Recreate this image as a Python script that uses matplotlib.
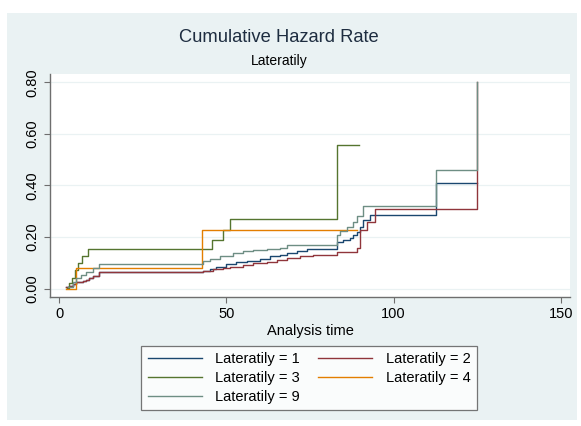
import matplotlib
matplotlib.use("Agg")
import matplotlib.pyplot as plt
from matplotlib.patches import Rectangle

plt.rcParams['font.family'] = ['Liberation Sans', 'DejaVu Sans']

# ---- data ----
t1 = [2, 3, 4, 5, 7, 8, 9, 10, 12, 43, 45, 47, 50, 53, 56, 60, 63, 66, 68, 71, 74,
      83, 85, 87, 88, 89, 90, 91, 93, 112.7, 125]
v1 = [0.005, 0.012, 0.02, 0.026, 0.03, 0.035, 0.042, 0.05, 0.065, 0.07, 0.078, 0.085,
      0.095, 0.102, 0.108, 0.115, 0.125, 0.13, 0.14, 0.148, 0.155,
      0.18, 0.19, 0.195, 0.21, 0.22, 0.24, 0.265, 0.286, 0.41, 0.41]

t2 = [2, 3, 4, 5, 7, 8, 9, 10, 12, 43, 46, 49, 51, 55, 58, 62, 65, 68, 72, 76,
      83, 89, 90, 92, 94.5, 125]
v2 = [0.005, 0.012, 0.02, 0.026, 0.03, 0.035, 0.042, 0.05, 0.065, 0.07, 0.075, 0.08,
      0.086, 0.093, 0.1, 0.105, 0.112, 0.119, 0.125, 0.132,
      0.144, 0.157, 0.228, 0.26, 0.308, 0.80]

t3 = [2.2, 2.9, 3.9, 4.6, 5.6, 6.9, 8.6, 45.8, 48.9, 51, 83, 89.8]
v3 = [0.003, 0.022, 0.041, 0.073, 0.099, 0.128, 0.154, 0.19, 0.228, 0.27, 0.557, 0.557]

t4 = [2, 5, 42.8, 89]
v4 = [0.0, 0.082, 0.226, 0.226]

t9 = [2.5, 4, 5, 6.5, 8, 10, 12, 43, 45, 48, 52, 55, 58, 62, 66, 68,
      83, 84, 86, 88, 89, 91, 112.7, 125]
v9 = [0.005, 0.025, 0.04, 0.055, 0.065, 0.08, 0.095, 0.106, 0.115, 0.128, 0.14,
      0.147, 0.151, 0.155, 0.158, 0.17,
      0.209, 0.225, 0.24, 0.26, 0.28, 0.321, 0.46, 0.80]

labels = ["Lateratily = 1", "Lateratily = 2", "Lateratily = 3",
          "Lateratily = 4", "Lateratily = 9"]
xticks = [0, 50, 100, 150]
yticks = [0.0, 0.2, 0.4, 0.6, 0.8]

colors = ["#1a476f", "#90353b", "#55752f", "#e37e00", "#6e8e84"]
series = [(t1, v1), (t2, v2), (t3, v3), (t4, v4), (t9, v9)]

W, H = 581, 426
fig = plt.figure(figsize=(W / 100, H / 100), dpi=100, facecolor="white")
bg = "#eaf2f3"
fig.patches.append(Rectangle((7 / W, 1 - 420 / H), (577 - 7) / W, (420 - 13) / H,
                             transform=fig.transFigure, facecolor=bg,
                             edgecolor="none", zorder=-10))

ax = fig.add_axes([50 / W, 1 - 297 / H, (570 - 50) / W, (297 - 74) / H])
ax.set_facecolor("white")

handles = []
for (t, v), c, lab in zip(series, colors, labels):
    h, = ax.step(t, v, where="post", color=c, lw=1.0, label=lab)
    handles.append(h)

ax.set_xlim(-2.8, 152.8)
ax.set_ylim(-0.032, 0.832)
ax.set_xticks(xticks)
ax.set_xticklabels([str(x) for x in xticks])
ax.set_yticks(yticks)
ax.set_yticklabels([f"{y:.2f}" for y in yticks], rotation=90, va="center")
ax.grid(axis="y", color="#eaf2f3", lw=0.9)
ax.set_axisbelow(True)
for s in ["top", "right"]:
    ax.spines[s].set_visible(False)
for s in ["left", "bottom"]:
    ax.spines[s].set_color("#6e6e6e")
    ax.spines[s].set_linewidth(1.0)
ax.tick_params(axis="both", colors="#6e6e6e", labelcolor="black", labelsize=10.5,
               length=4, width=0.8)
ax.set_xlabel("Analysis time", fontsize=10.5, labelpad=2)

fig.text(279 / W, 1 - 38 / H, "Cumulative Hazard Rate", ha="center", va="center",
         fontsize=13.2, color="#1e2d40")
fig.text(279 / W, 1 - 61 / H, "Lateratily", ha="center", va="center",
         fontsize=10, color="black")

order = [0, 2, 4, 1, 3]
leg = fig.legend([handles[i] for i in order], [labels[i] for i in order],
                 ncol=2, loc="center",
                 bbox_to_anchor=(309 / W, 1 - 378 / H), frameon=True,
                 fancybox=False, edgecolor="#555555", facecolor="white",
                 fontsize=10.5, handlelength=3.7, columnspacing=1.3,
                 labelspacing=0.32, borderpad=0.45, handletextpad=0.9)
leg.get_frame().set_linewidth(0.9)

fig.savefig("out.png", dpi=100, facecolor="white")
